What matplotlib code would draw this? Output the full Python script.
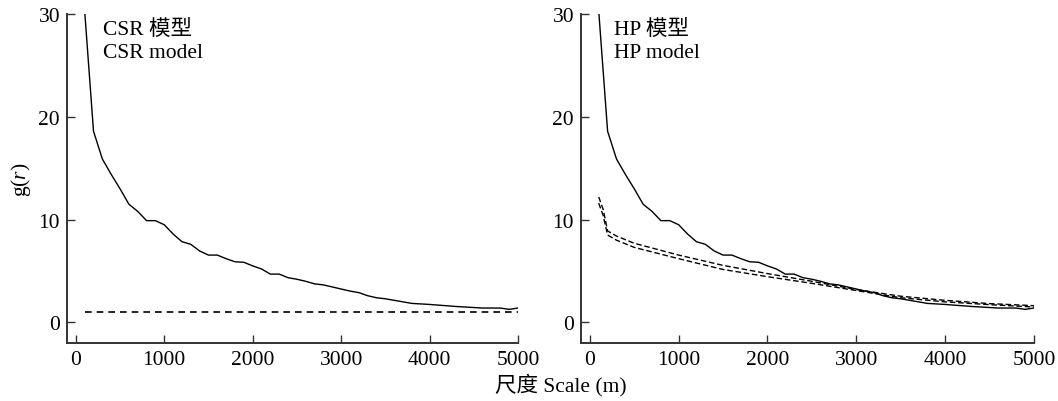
import matplotlib
matplotlib.use("Agg")
import matplotlib.pyplot as plt

plt.rcParams['font.family'] = ['Liberation Serif', 'Noto Sans CJK SC']
plt.rcParams['mathtext.fontset'] = 'custom'
plt.rcParams['mathtext.it'] = 'Liberation Serif:italic'
plt.rcParams['mathtext.rm'] = 'Liberation Serif'

# Observed g(r)
scale = [100, 200, 300, 400, 500, 600, 700, 800, 900, 1000, 1100, 1200, 1300, 1400,
         1500, 1600, 1700, 1800, 1900, 2000, 2100, 2200, 2300, 2400, 2500, 2600,
         2700, 2800, 2900, 3000, 3100, 3200, 3300, 3400, 3500, 3600, 3700, 3800,
         3900, 4000, 4100, 4200, 4300, 4400, 4500, 4600, 4700, 4800, 4900, 5000]
g_obs = [30.3, 18.6, 15.9, 14.4, 13.0, 11.5, 10.8, 9.9, 9.9, 9.5, 8.6, 7.85, 7.6, 6.95,
         6.55, 6.55, 6.2, 5.9, 5.85, 5.5, 5.2, 4.7, 4.7, 4.35, 4.2, 4.0,
         3.75, 3.65, 3.45, 3.25, 3.05, 2.9, 2.6, 2.4, 2.3, 2.15, 2.0, 1.85,
         1.8, 1.75, 1.68, 1.62, 1.55, 1.5, 1.45, 1.4, 1.4, 1.4, 1.27, 1.4]

# CSR model expectation
csr_scale = [100, 5000]
csr_g = [1.0, 1.0]

# HP model envelopes
hp_scale = [100, 150, 200, 300, 500, 1000, 1500, 2000, 2500, 3000, 3500, 4000, 4500, 5000]
hp_upper = [12.2, 11.0, 8.9, 8.4, 7.7, 6.55, 5.55, 4.75, 4.0, 3.2, 2.55, 2.15, 1.83, 1.63]
hp_lower = [11.6, 10.4, 8.5, 8.0, 7.3, 6.2, 5.15, 4.45, 3.8, 3.1, 2.4, 2.0, 1.73, 1.5]

xticks = [0, 1000, 2000, 3000, 4000, 5000]
yticks = [0, 10, 20, 30]

FS = 15.5

fig = plt.figure(figsize=(10.58, 4.02), dpi=100)
ax1 = fig.add_axes([0.0633, 0.1443, 0.4263, 0.8184])
ax2 = fig.add_axes([0.5491, 0.1443, 0.4282, 0.8184])

spine_col = '#333333'
for ax in (ax1, ax2):
    ax.plot(scale, g_obs, color='black', lw=1.0, clip_on=True)
    ax.set_xlim(-100, 5000)
    ax.set_ylim(-2, 30)
    ax.set_xticks(xticks)
    ax.set_yticks(yticks)
    ax.spines['top'].set_visible(False)
    ax.spines['right'].set_visible(False)
    for s in ('left', 'bottom'):
        ax.spines[s].set_linewidth(1.4)
        ax.spines[s].set_color(spine_col)
    ax.tick_params(direction='in', length=5.5, width=1.0, color=spine_col,
                   labelsize=FS, pad=5)

ax1.plot(csr_scale, csr_g, color='black', lw=1.2, ls=(0, (4, 3)))
ax2.plot(hp_scale, hp_upper, color='black', lw=1.0, ls=(0, (4, 2)))
ax2.plot(hp_scale, hp_lower, color='black', lw=1.0, ls=(0, (4, 2)))

ax1.text(0.08, 0.985, 'CSR 模型\nCSR model', transform=ax1.transAxes,
         fontsize=FS, va='top', ha='left', linespacing=1.3)
ax2.text(0.073, 0.985, 'HP 模型\nHP model', transform=ax2.transAxes,
         fontsize=FS, va='top', ha='left', linespacing=1.3)

ax1.set_ylabel(r'g($\mathit{r}$)', fontsize=FS, labelpad=4)
fig.text(0.53, 0.042, '尺度 Scale (m)', ha='center', va='center', fontsize=FS)

fig.savefig('out.png', dpi=100)
